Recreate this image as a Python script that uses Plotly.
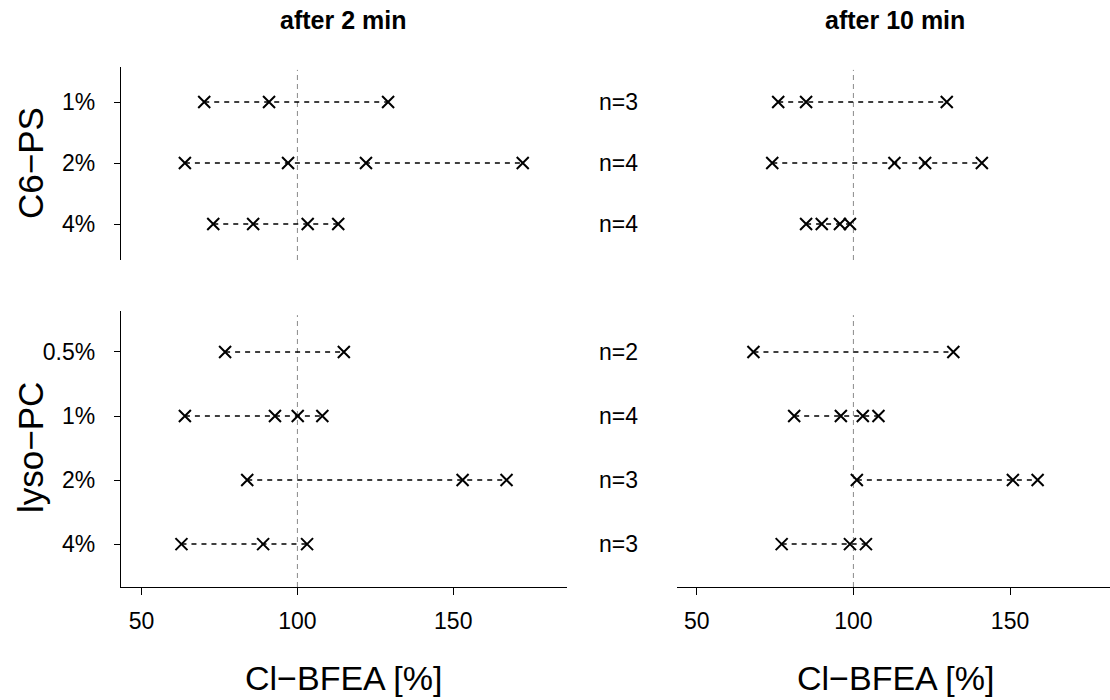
import plotly.graph_objects as go

# ---------------- data ----------------
c6_rows = ["1%", "2%", "4%"]
lyso_rows = ["0.5%", "1%", "2%", "4%"]

c6_2min = [[70.1, 90.9, 129.1],
           [63.9, 97.0, 122.0, 172.3],
           [73.0, 85.8, 103.3, 113.1]]
c6_10min = [[76.0, 84.9, 129.8],
            [74.1, 113.1, 122.9, 141.0],
            [84.9, 89.9, 95.7, 98.9]]
lyso_2min = [[76.8, 114.9],
             [63.9, 92.8, 100.1, 108.0],
             [83.9, 153.0, 167.1],
             [62.8, 89.0, 103.1]]
lyso_10min = [[68.1, 131.9],
              [81.1, 96.0, 103.0, 108.0],
              [101.1, 150.9, 158.8],
              [77.1, 98.9, 104.0]]

c6_n = ["n=3", "n=4", "n=4"]
lyso_n = ["n=2", "n=4", "n=3", "n=3"]

x_ticks = [50, 100, 150]
ref_value = 100
titles = ["after 2 min", "after 10 min"]
groups = ["C6\u2212PS", "lyso\u2212PC"]
x_title = "Cl\u2212BFEA [%]"

# ---------------- layout helpers ----------------
W, H = 1110, 700
FONT = "Liberation Sans, Arial, sans-serif"

def px_x(p):
    return p / W

def px_y(p):
    return 1 - p / H

fig = go.Figure()

panels = [
    (c6_2min, c6_rows, "x", "y"),
    (c6_10min, c6_rows, "x2", "y2"),
    (lyso_2min, lyso_rows, "x3", "y3"),
    (lyso_10min, lyso_rows, "x4", "y4"),
]

for data, rows, xa, ya in panels:
    for i, vals in enumerate(data):
        fig.add_trace(go.Scatter(
            x=sorted(vals), y=[i] * len(vals), xaxis=xa, yaxis=ya,
            mode="lines+markers",
            line=dict(color="black", width=1.5, dash="5px,5px"),
            marker=dict(symbol="x-thin-open", size=12, color="black",
                        line=dict(color="black", width=2)),
            showlegend=False, hoverinfo="x",
        ))

left_dom = [px_x(121), px_x(567)]
right_dom = [px_x(677), 1.0]
left_range = [43.4, 186.5]
right_range = [43.7, 181.9]
top_dom = [px_y(260), px_y(67)]
bot_dom = [px_y(587), px_y(311)]
top_range = [2.59, -0.574]
bot_range = [3.67, -0.64]

tickfont = dict(family=FONT, size=23, color="black")
nfont = dict(family=FONT, size=23, color="black")

common_x_hidden = dict(showline=False, showticklabels=False, ticks="",
                       showgrid=False, zeroline=False)
xvis = dict(showline=True, linecolor="black", linewidth=1.3,
            ticks="outside", ticklen=7, tickcolor="black", tickwidth=1,
            tickvals=x_ticks, tickfont=tickfont, showgrid=False, zeroline=False,
            ticklabelstandoff=6)
yvis = dict(showline=True, linecolor="black", linewidth=1.3,
            ticks="outside", ticklen=6, tickcolor="black",
            tickfont=tickfont, showgrid=False, zeroline=False,
            ticklabelstandoff=14)
yhid = dict(showline=False, showticklabels=False, ticks="",
            showgrid=False, zeroline=False)

fig.update_layout(
    width=W, height=H,
    margin=dict(l=0, r=0, t=0, b=0),
    plot_bgcolor="white", paper_bgcolor="white",
    xaxis=dict(domain=left_dom, range=left_range, anchor="y", **common_x_hidden),
    xaxis2=dict(domain=right_dom, range=right_range, anchor="y2", **common_x_hidden),
    xaxis3=dict(domain=left_dom, range=left_range, anchor="y3", **xvis),
    xaxis4=dict(domain=right_dom, range=right_range, anchor="y4", **xvis),
    yaxis=dict(domain=top_dom, range=top_range, anchor="x",
               tickvals=list(range(len(c6_rows))), ticktext=c6_rows, **yvis),
    yaxis2=dict(domain=top_dom, range=top_range, anchor="x2", **yhid),
    yaxis3=dict(domain=bot_dom, range=bot_range, anchor="x3",
                tickvals=list(range(len(lyso_rows))), ticktext=lyso_rows, **yvis),
    yaxis4=dict(domain=bot_dom, range=bot_range, anchor="x4", **yhid),
)

# reference dashed lines at 100
for xa, ya in [("x", "y"), ("x2", "y2"), ("x3", "y3"), ("x4", "y4")]:
    fig.add_shape(type="line", xref=xa, yref=ya + " domain",
                  x0=ref_value, x1=ref_value, y0=0, y1=0.985,
                  line=dict(color="#8a8a8a", width=1, dash="5px,4px"), layer="below")

# n labels
for i, t in enumerate(c6_n):
    fig.add_annotation(x=px_x(618), xref="paper", y=i, yref="y", text=t,
                       showarrow=False, font=nfont, xanchor="center", yanchor="middle")
for i, t in enumerate(lyso_n):
    fig.add_annotation(x=px_x(618), xref="paper", y=i, yref="y3", text=t,
                       showarrow=False, font=nfont, xanchor="center", yanchor="middle")

# column titles
for x, t in zip([343, 895], titles):
    fig.add_annotation(x=px_x(x), y=px_y(20), xref="paper", yref="paper", text="<b>" + t + "</b>",
                       showarrow=False, xanchor="center", yanchor="middle",
                       font=dict(family=FONT, size=25, color="black"))

# group labels
for y, t in zip([163, 448], groups):
    fig.add_annotation(x=px_x(30), y=px_y(y), xref="paper", yref="paper", text=t,
                       textangle=-90, showarrow=False, xanchor="center", yanchor="middle",
                       font=dict(family=FONT, size=35, color="black"))

# x axis titles
for x in [343, 895]:
    fig.add_annotation(x=px_x(x), y=px_y(678), xref="paper", yref="paper", text=x_title,
                       showarrow=False, xanchor="center", yanchor="middle",
                       font=dict(family=FONT, size=34, color="black"))

fig.write_html("out.html")
